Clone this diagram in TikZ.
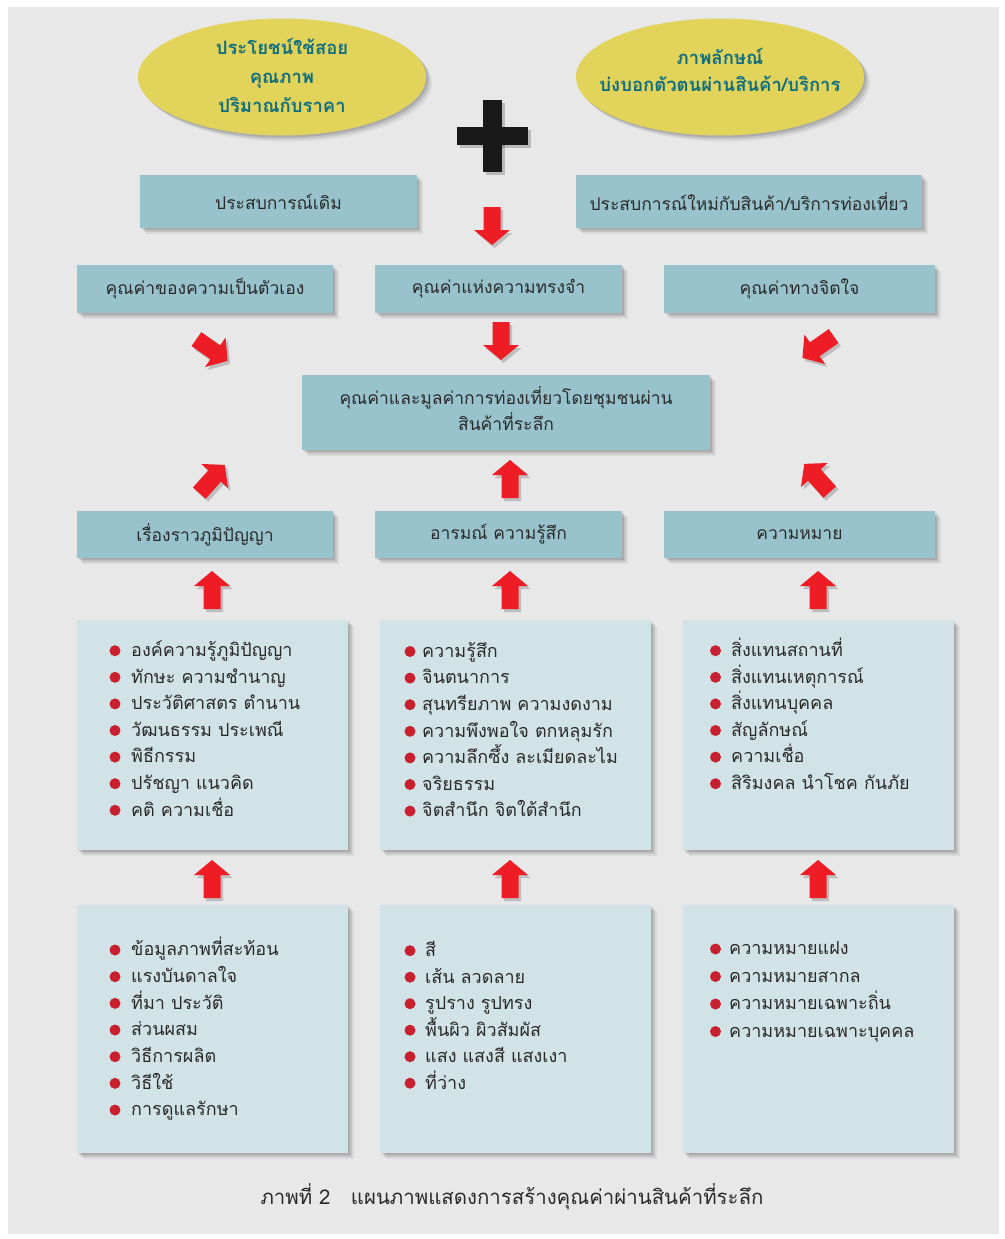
\documentclass[tikz,border=0pt]{standalone}
\usepackage{fontspec}
\newfontfamily\thai[Script=Thai]{Loma}
\usetikzlibrary{shapes.geometric,shadows}
\definecolor{bgc}{HTML}{E8E8E8}
\definecolor{ellc}{HTML}{E2D35A}
\definecolor{tealc}{HTML}{0F6E80}
\definecolor{hdrc}{HTML}{99C3CC}
\definecolor{lstc}{HTML}{D2E3E7}
\definecolor{txtc}{HTML}{2A2A2A}
\definecolor{arrc}{HTML}{EE1C25}
\definecolor{bulc}{HTML}{C8202F}
\newcommand\barrow[3]{%
  \begin{scope}[shift={(#1+2.5,#2+3)},rotate=#3]
    \fill[black,opacity=.18] (-19,-8.5) -- (4,-8.5) -- (4,-18) -- (19,0) -- (4,18) -- (4,8.5) -- (-19,8.5) -- cycle;
  \end{scope}
  \begin{scope}[shift={(#1,#2)},rotate=#3]
    \fill[arrc] (-19,-8.5) -- (4,-8.5) -- (4,-18) -- (19,0) -- (4,18) -- (4,8.5) -- (-19,8.5) -- cycle;
  \end{scope}}
\begin{document}
\begin{tikzpicture}[x=1pt,y=-1pt,
  softshadow/.style={drop shadow={shadow xshift=2pt,shadow yshift=-2pt,opacity=.12,fill=black},
                     drop shadow={shadow xshift=4pt,shadow yshift=-4pt,opacity=.10,fill=black},
                     drop shadow={shadow xshift=6pt,shadow yshift=-6pt,opacity=.06,fill=black}},
  hdr/.style={rectangle,fill=hdrc,inner sep=0pt,text=txtc,font=\thai\fontsize{17.5}{26}\selectfont,align=center,softshadow},
  lst/.style={rectangle,fill=lstc,inner sep=0pt,softshadow},
  ell/.style={ellipse,fill=ellc,inner sep=0pt,softshadow},
  elltxt/.style={inner sep=0pt,text=tealc,font=\thai\bfseries\fontsize{18.5}{29}\selectfont,align=center},
  item/.style={anchor=base west,inner sep=0pt,text=txtc,font=\thai\fontsize{18}{20}\selectfont},
  captxt/.style={inner sep=0pt,text=txtc,font=\thai\fontsize{20.4}{22}\selectfont}]
\fill[white] (0,0) rectangle (1004,1239);
\useasboundingbox (0,0) rectangle (1004,1239);
\fill[bgc] (8,7) rectangle (999,1234);

% ellipses
\node[ell,minimum width=288,minimum height=117] (e1) at (282,77) {};
\node[elltxt] (e1t) at (282,75.5) {ประโยชน์ใช้สอย\\คุณภาพ\\ปริมาณกับราคา};
\node[ell,minimum width=288,minimum height=117] (e2) at (720,77) {};
\node[elltxt,font=\thai\bfseries\fontsize{18.5}{27}\selectfont] (e2t) at (720,69.5) {ภาพลักษณ์\\บ่งบอกตัวตนผ่านสินค้า/บริการ};

% plus sign
\fill[black,opacity=.2] (485.5,102.5) rectangle (504.5,174.5);
\fill[black,opacity=.2] (459.5,129.5) rectangle (530.5,147.5);
\fill[black!90] (483,100) rectangle (502,172);
\fill[black!90] (457,127) rectangle (528,145);

% experience boxes
\node[hdr,minimum width=277,minimum height=53] (x1) at (278.5,201.5) {ประสบการณ์เดิม};
\node[hdr,minimum width=346,minimum height=53] (x2) at (749,201.5) {ประสบการณ์ใหม่กับสินค้า/บริการท่องเที่ยว};

% value boxes
\node[hdr,minimum width=256,minimum height=48] (v1) at (205,289) {คุณค่าของความเป็นตัวเอง};
\node[hdr,minimum width=247,minimum height=48] (v2) at (498.5,289) {คุณค่าแห่งความทรงจำ};
\node[hdr,minimum width=271,minimum height=48] (v3) at (799.5,289) {คุณค่าทางจิตใจ};

% main box
\node[hdr,minimum width=408,minimum height=75] (m) at (506,412.5) {};
\node[inner sep=0pt,text=txtc,font=\thai\fontsize{17.5}{26}\selectfont,align=center] (mt) at (506,409) {คุณค่าและมูลค่าการท่องเที่ยวโดยชุมชนผ่าน\\สินค้าที่ระลึก};

% category boxes
\node[hdr,minimum width=256,minimum height=47] (c1) at (205,534.5) {เรื่องราวภูมิปัญญา};
\node[hdr,minimum width=247,minimum height=47] (c2) at (498.5,534.5) {อารมณ์ ความรู้สึก};
\node[hdr,minimum width=271,minimum height=47] (c3) at (799.5,534.5) {ความหมาย};

% list boxes row 4
\node[lst,minimum width=271,minimum height=230] (a1) at (212.5,734.5) {};
\node[lst,minimum width=271,minimum height=230] (a2) at (515.5,734.5) {};
\node[lst,minimum width=271,minimum height=230] (a3) at (818.5,734.5) {};
% list boxes row 5
\node[lst,minimum width=271,minimum height=248] (b1) at (212.5,1029) {};
\node[lst,minimum width=271,minimum height=248] (b2) at (515.5,1029) {};
\node[lst,minimum width=271,minimum height=248] (b3) at (818.5,1029) {};

% arrows
\barrow{492}{226}{-90}
\barrow{212}{350}{-35}
\barrow{501}{341}{-90}
\barrow{818}{347}{-145}
\barrow{212}{479}{48}
\barrow{510}{479}{90}
\barrow{817}{478}{132}
\barrow{212}{590}{90}
\barrow{510}{590}{90}
\barrow{818}{590}{90}
\barrow{212}{879}{90}
\barrow{510}{879}{90}
\barrow{818}{879}{90}

% lists
\foreach \t [count=\i] in {องค์ความรู้ภูมิปัญญา,ทักษะ ความชำนาญ,ประวัติศาสตร ตำนาน,วัฒนธรรม ประเพณี,พิธีกรรม,ปรัชญา แนวคิด,คติ ความเชื่อ}{
  \fill[bulc] (115,{650.7+(\i-1)*26.6}) circle (5.5);
  \node[item] (la\i) at (131,{656.5+(\i-1)*26.6}) {\t};}
\foreach \t [count=\i] in {ความรู้สึก,จินตนาการ,สุนทรียภาพ ความงดงาม,ความพึงพอใจ ตกหลุมรัก,ความลึกซึ้ง ละเมียดละไม,จริยธรรม,จิตสำนึก จิตใต้สำนึก}{
  \fill[bulc] (410,{651.5+(\i-1)*26.6}) circle (5.5);
  \node[item] (lb\i) at (422,{657.3+(\i-1)*26.6}) {\t};}
\foreach \t [count=\i] in {สิ่งแทนสถานที่,สิ่งแทนเหตุการณ์,สิ่งแทนบุคคล,สัญลักษณ์,ความเชื่อ,สิริมงคล นำโชค กันภัย}{
  \fill[bulc] (715.5,{650.7+(\i-1)*26.6}) circle (5.5);
  \node[item] (lc\i) at (731,{656.5+(\i-1)*26.6}) {\t};}
\foreach \t [count=\i] in {ข้อมูลภาพที่สะท้อน,แรงบันดาลใจ,ที่มา ประวัติ,ส่วนผสม,วิธีการผลิต,วิธีใช้,การดูแลรักษา}{
  \fill[bulc] (115,{950+(\i-1)*26.67}) circle (5.5);
  \node[item] (ld\i) at (131,{955.8+(\i-1)*26.67}) {\t};}
\foreach \t [count=\i] in {สี,เส้น ลวดลาย,รูปราง รูปทรง,พื้นผิว ผิวสัมผัส,แสง แสงสี แสงเงา,ที่ว่าง}{
  \fill[bulc] (410,{950.7+(\i-1)*26.5}) circle (5.5);
  \node[item] (le\i) at (425,{956.5+(\i-1)*26.5}) {\t};}
\foreach \t [count=\i] in {ความหมายแฝง,ความหมายสากล,ความหมายเฉพาะถิ่น,ความหมายเฉพาะบุคคล}{
  \fill[bulc] (715.5,{949+(\i-1)*27.5}) circle (5.5);
  \node[item] (lf\i) at (729,{954.8+(\i-1)*27.5}) {\t};}

% caption
\node[captxt] (cap) at (512,1197) {ภาพที่ 2\hspace{1em}แผนภาพแสดงการสร้างคุณค่าผ่านสินค้าที่ระลึก};
\end{tikzpicture}
\end{document}
